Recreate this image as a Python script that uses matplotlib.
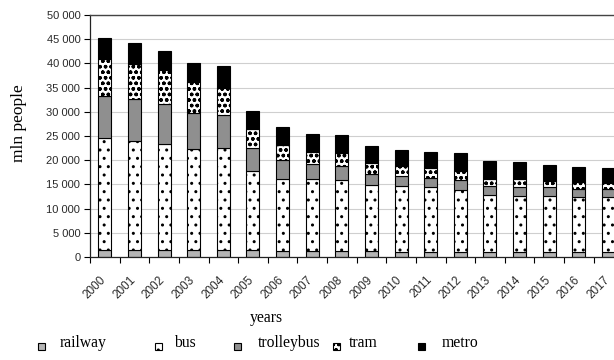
import matplotlib
matplotlib.use("Agg")
import matplotlib.pyplot as plt
import matplotlib.transforms as mtransforms
from matplotlib.patches import Rectangle
from matplotlib.ticker import FuncFormatter, MultipleLocator
import numpy as np

years = [str(y) for y in range(2000, 2018)]
railway = [1450, 1450, 1450, 1400, 1400, 1350, 1300, 1300, 1300, 1200,
           1000, 1000, 1000, 950, 950, 950, 950, 1000]
bus = [23200, 22500, 21950, 20850, 21050, 16450, 14800, 14800, 14600, 13700,
       13700, 13500, 12800, 11850, 11650, 11650, 11500, 11400]
trolleybus = [8650, 8600, 8200, 7450, 6850, 4800, 3900, 3050, 2900, 2200,
              2000, 1900, 2100, 1900, 1900, 1900, 1700, 1600]
tram = [7550, 7400, 7000, 6400, 5700, 3850, 3100, 2600, 2600, 2300,
        2100, 2050, 1900, 1400, 1550, 1100, 1400, 1350]
metro = [4450, 4350, 4000, 4050, 4500, 3750, 3800, 3650, 3800, 3600,
         3300, 3300, 3750, 3750, 3500, 3400, 3100, 3100]

series = [
    ("railway", railway, dict(facecolor="#b4b4b4", hatch="-")),
    ("bus", bus, dict(facecolor="white", hatch="..")),
    ("trolleybus", trolleybus, dict(facecolor="#8f8f8f", hatch=None)),
    ("tram", tram, dict(facecolor="white", hatch="ooo")),
    ("metro", metro, dict(facecolor="black", hatch=None)),
]

plt.rcParams["hatch.linewidth"] = 1.0
plt.rcParams["hatch.color"] = "black"

W, H = 614, 360
fig = plt.figure(figsize=(W / 100, H / 100), dpi=100)
left_px, right_px, top_px, bot_px = 90, 623.3, 15, 257
ax = fig.add_axes([left_px / W, 1 - bot_px / H,
                   (right_px - left_px) / W, (bot_px - top_px) / H])

x = np.arange(len(years))
bottom = np.zeros(len(years))
for name, vals, style in series:
    ax.bar(x, vals, width=0.44, bottom=bottom, edgecolor="black",
           linewidth=0.8, label=name, zorder=2, **style)
    bottom += np.array(vals)

ax.set_xlim(-0.5, len(years) - 0.5)
ax.set_ylim(0, 50000)
ax.yaxis.set_major_locator(MultipleLocator(5000))
ax.yaxis.set_major_formatter(
    FuncFormatter(lambda v, p: f"{int(v):,}".replace(",", " ")))
ax.grid(axis="y", color="#cfcfcf", linewidth=0.8, zorder=0)
ax.set_axisbelow(True)

# category boundaries carry the x tick marks, labels sit under each bar
ax.set_xticks(np.arange(len(years) + 1) - 0.5, minor=False)
ax.set_xticklabels([])
ax.set_xticks(x, minor=True)
ax.set_xticklabels(years, minor=True, rotation=45, ha="right",
                   rotation_mode="anchor", family="Liberation Sans",
                   fontsize=8.5, color="#2a2a2a")
ax.tick_params(axis="x", which="minor", length=0, pad=12)
ax.tick_params(axis="x", which="major", length=4, width=0.8, direction="out")
ax.tick_params(axis="y", length=4, width=0.8, direction="out", pad=3)
shift = mtransforms.ScaledTranslation(-5 / 100, 0, fig.dpi_scale_trans)
for lab in ax.get_xticklabels(minor=True):
    lab.set_transform(lab.get_transform() + shift)
for lab in ax.get_yticklabels():
    lab.set_family("Liberation Sans")
    lab.set_fontsize(8)
    lab.set_color("#2a2a2a")

for side in ("left", "bottom"):
    ax.spines[side].set_color("#222222")
    ax.spines[side].set_linewidth(0.9)
ax.spines["top"].set_color("#444444")
ax.spines["top"].set_linewidth(1.0)
ax.spines["right"].set_visible(False)

fig.text(19 / W, 1 - 123 / H, "mln people", rotation=90, ha="center",
         va="center", family="Liberation Serif", fontsize=12.5)
fig.text(266 / W, 1 - 318 / H, "years", ha="center", va="center",
         family="Liberation Serif", fontsize=11.3)

# legend row along the bottom
marker_x = [41, 158, 237, 336, 421]
text_x = [60, 174, 258, 349, 442]
size = 7
for (name, vals, style), mx, tx in zip(series, marker_x, text_x):
    r = Rectangle(((mx - size / 2) / W, 1 - (346 + size / 2) / H),
                  size / W, size / H, transform=fig.transFigure,
                  edgecolor="black", linewidth=0.8, **style)
    fig.add_artist(r)
    fig.text(tx / W, 1 - 343 / H, name, ha="left", va="center",
             family="Liberation Serif", fontsize=11.3)

fig.savefig("out.png", dpi=100)
